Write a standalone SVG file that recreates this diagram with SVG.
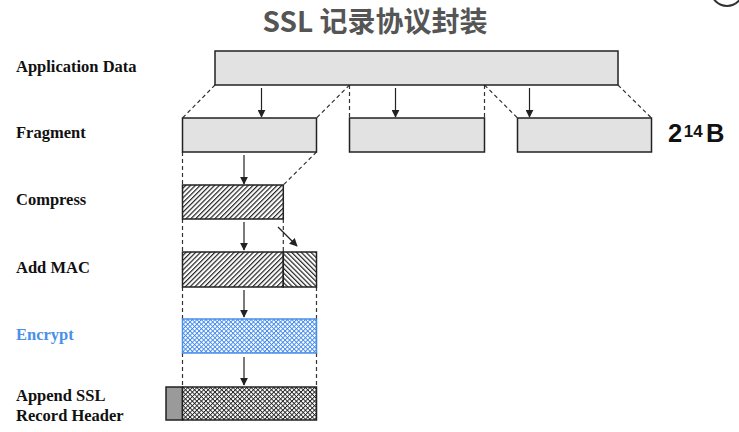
<svg xmlns="http://www.w3.org/2000/svg" width="739" height="432" viewBox="0 0 739 432">
<defs>
<style>
.lbl{font-family:"Liberation Serif","Times New Roman",serif;font-weight:bold;font-size:16.5px;fill:#111}
.box{stroke:#222;stroke-width:1.5}
.plain{fill:#e2e2e2}
.dash{stroke:#333;stroke-width:1.2;stroke-dasharray:4 3;fill:none}
.arr{stroke:#222;stroke-width:1.2;fill:none;marker-end:url(#ah)}
</style>
<marker id="ah" viewBox="0 0 10 10" refX="9" refY="5" markerWidth="8" markerHeight="8" markerUnits="userSpaceOnUse" orient="auto">
<path d="M0,0 L10,5 L0,10 Z" fill="#222"/>
</marker>
<pattern id="hatchF" patternUnits="userSpaceOnUse" width="3.4" height="10" patternTransform="rotate(45)">
<rect width="3.4" height="10" fill="#fff"/>
<line x1="0.6" y1="0" x2="0.6" y2="10" stroke="#222" stroke-width="1.2"/>
</pattern>
<pattern id="hatchB" patternUnits="userSpaceOnUse" width="3.4" height="10" patternTransform="rotate(-45)">
<rect width="3.4" height="10" fill="#fff"/>
<line x1="0.6" y1="0" x2="0.6" y2="10" stroke="#222" stroke-width="1.2"/>
</pattern>
<pattern id="crossK" patternUnits="userSpaceOnUse" width="3.2" height="3.2" patternTransform="rotate(45)">
<rect width="3.2" height="3.2" fill="#fff"/>
<line x1="0.45" y1="0" x2="0.45" y2="3.2" stroke="#222" stroke-width="0.9"/>
<line x1="0" y1="0.45" x2="3.2" y2="0.45" stroke="#222" stroke-width="0.9"/>
</pattern>
<pattern id="crossB" patternUnits="userSpaceOnUse" width="3.2" height="3.2" patternTransform="rotate(45)">
<rect width="3.2" height="3.2" fill="#fff"/>
<line x1="0.45" y1="0" x2="0.45" y2="3.2" stroke="#3f88ec" stroke-width="0.9"/>
<line x1="0" y1="0.45" x2="3.2" y2="0.45" stroke="#3f88ec" stroke-width="0.9"/>
</pattern>
</defs>
<rect width="739" height="432" fill="#fff"/>

<text x="375" y="32" text-anchor="middle" font-family="'Noto Sans CJK SC','Noto Sans',sans-serif" font-weight="bold" font-size="28" fill="#555">SSL 记录协议封装</text>
<circle cx="727" cy="-10" r="16" fill="none" stroke="#333" stroke-width="2"/>

<g id="labels">
<text class="lbl" x="16" y="72">Application Data</text>
<text class="lbl" x="16" y="138">Fragment</text>
<text class="lbl" x="16" y="205">Compress</text>
<text class="lbl" x="16" y="273">Add MAC</text>
<text class="lbl" x="16" y="340" style="fill:#4a8fe8">Encrypt</text>
<text class="lbl" x="16" y="401">Append SSL</text>
<text class="lbl" x="16" y="421">Record Header</text>
</g>

<g id="connectors">
<line class="dash" x1="215" y1="85" x2="182.5" y2="118"/>
<line class="dash" x1="349.5" y1="85" x2="316.5" y2="118"/>
<line class="dash" x1="349.5" y1="85" x2="349.5" y2="118"/>
<line class="dash" x1="484.5" y1="85" x2="484.5" y2="118"/>
<line class="dash" x1="484.5" y1="85" x2="517.5" y2="118"/>
<line class="dash" x1="618" y1="85" x2="651.5" y2="118"/>
<line class="dash" x1="182.5" y1="152" x2="182.5" y2="185"/>
<line class="dash" x1="316.5" y1="152" x2="283.3" y2="185"/>
<line class="dash" x1="182.5" y1="219" x2="182.5" y2="252"/>
<line class="dash" x1="283.3" y1="219" x2="283.3" y2="252"/>
<line class="dash" x1="182.5" y1="287" x2="182.5" y2="319"/>
<line class="dash" x1="316.5" y1="287" x2="316.5" y2="319"/>
<line class="dash" x1="182.5" y1="353" x2="182.5" y2="387"/>
<line class="dash" x1="316.5" y1="353" x2="316.5" y2="387"/>
<line class="arr" x1="261.5" y1="88" x2="261.5" y2="117"/>
<line class="arr" x1="395.5" y1="88" x2="395.5" y2="117"/>
<line class="arr" x1="529.5" y1="88" x2="529.5" y2="117"/>
<line class="arr" x1="244" y1="155" x2="244" y2="184"/>
<line class="arr" x1="244" y1="222" x2="244" y2="250"/>
<line class="arr" x1="278" y1="227" x2="297" y2="246"/>
<line class="arr" x1="244" y1="290" x2="244" y2="317"/>
<line class="arr" x1="244" y1="357" x2="244" y2="385"/>
</g>

<g id="app-data"><rect class="box plain" x="215" y="51" width="403" height="34"/></g>
<g id="fragment-1"><rect class="box plain" x="182.5" y="118" width="134" height="34"/></g>
<g id="fragment-2"><rect class="box plain" x="349.5" y="118" width="135" height="34"/></g>
<g id="fragment-3"><rect class="box plain" x="517.5" y="118" width="134" height="34"/></g>
<g id="size-label"><text x="668" y="142" font-family="'Liberation Sans',Arial,sans-serif" font-weight="bold" font-size="25.5" fill="#111">2<tspan font-size="17" dx="1.5" dy="-5.5">14</tspan><tspan dx="3.5" dy="5.5">B</tspan></text></g>
<g id="compress"><rect class="box" x="182.5" y="185" width="100.8" height="34" fill="url(#hatchF)"/></g>
<g id="add-mac">
<rect class="box" x="182.5" y="252" width="100.8" height="35" fill="url(#hatchF)"/>
<rect class="box" x="283.3" y="252" width="33.2" height="35" fill="url(#hatchB)"/>
</g>
<g id="encrypt"><rect x="182.5" y="319" width="134" height="34" fill="url(#crossB)" stroke="#4a8fe8" stroke-width="1.5"/></g>
<g id="record">
<rect class="box" x="166" y="387" width="16.5" height="33" fill="#9a9a9a"/>
<rect class="box" x="182.5" y="387" width="134" height="33" fill="url(#crossK)"/>
</g>
</svg>
